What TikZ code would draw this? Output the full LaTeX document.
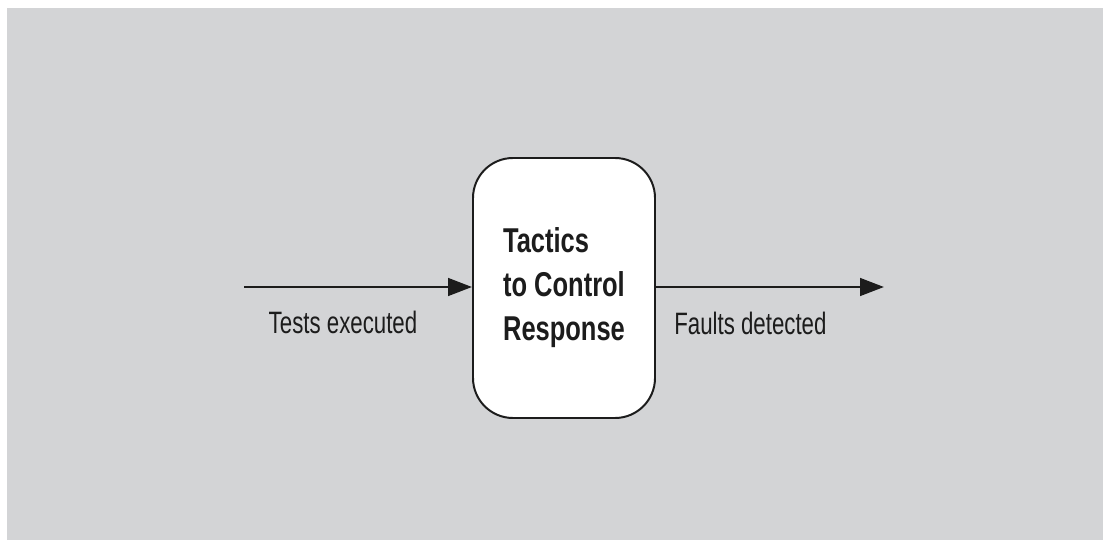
\documentclass[tikz,border=0pt]{standalone}
\usepackage{fontspec}
\setmainfont{Liberation Sans}
\newfontfamily\labelfont[FakeStretch=0.72]{Liberation Sans}
\newfontfamily\boxfont[FakeStretch=0.74]{Liberation Sans}
\usetikzlibrary{arrows.meta, positioning}
\definecolor{bggray}{RGB}{211,212,214}
\definecolor{inkgray}{RGB}{28,28,28}

\begin{document}
\begin{tikzpicture}[
    % Define styles for reusable components
    tactic/.style={draw=inkgray, line width=1.4pt, fill=white, rounded corners=1cm,
                   minimum width=4.55cm, minimum height=6.5cm, align=left,
                   font=\boxfont\bfseries\fontsize{24.5}{31.3}\selectfont, text=inkgray},
    flowlabel/.style={anchor=base, font=\labelfont\fontsize{22}{26}\selectfont, text=inkgray},
    flow/.style={-{Triangle[length=6mm, width=4.4mm]}, line width=2pt, draw=inkgray}
]

    % --- BACKGROUND ---
    \useasboundingbox (0, 0) rectangle (27.575, 13.5);
    \fill[white] (0, 0) rectangle (27.575, 13.5);
    \fill[bggray] (0.175, 0) rectangle (27.575, 13.3);

    % --- TACTICS BOX ---
    \node[tactic] (tactics) at (14.1, 6.3) {Tactics\\to Control\\Response};

    % --- STIMULUS AND RESPONSE ---
    \coordinate (stimulus) at (6.1, 6.325);
    \coordinate (response) at (22.1, 6.325);
    \draw[flow] (stimulus) -- (stimulus -| tactics.west);
    \draw[flow] (response -| tactics.east) -- (response);

    \node[flowlabel] (tests) at (8.575, 5.175) {Tests executed};
    \node[flowlabel] (faults) at (18.76, 5.15) {Faults detected};

\end{tikzpicture}
\end{document}
